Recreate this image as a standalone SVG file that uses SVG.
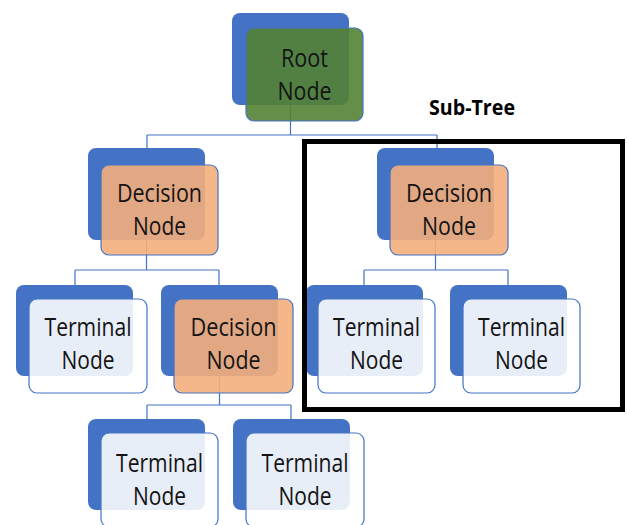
<svg xmlns="http://www.w3.org/2000/svg" width="627" height="525" viewBox="0 0 627 525">
<style>
.back{fill:#4472C4;}
.front{stroke:#4472C4;stroke-width:1.2;}
.root{fill:#548235;fill-opacity:0.9;}
.dec{fill:#F4AE7D;fill-opacity:0.9;}
.term{fill:#FFFFFF;fill-opacity:0.88;}
.lbl{font-family:"Open Sans","Noto Sans",sans-serif;font-size:25px;fill:#141414;text-anchor:middle;}
.conn{fill:none;stroke:#4472C4;stroke-width:1.2;}
.title{font-family:"Open Sans","Noto Sans",sans-serif;font-size:22px;font-weight:bold;fill:#000;text-anchor:middle;}
</style>
<rect width="627" height="525" fill="#FFFFFF"/>
<g id="connectors">
<path class="conn" d="M290.5,105 V135 M147,135 H437 M147,135 V148 M437,135 V148"/>
<path class="conn" d="M146.5,240 V270 M75,270 H219 M75,270 V285 M219,270 V285"/>
<path class="conn" d="M435.5,240 V270 M364,270 H508 M364,270 V285 M508,270 V285"/>
<path class="conn" d="M219.5,376 V405 M147,405 H291 M147,405 V419 M291,405 V419"/>
</g>
<g id="root">
<rect class="back" x="232" y="13" width="117" height="92" rx="8"/>
<rect class="front root" x="246" y="28" width="117" height="93" rx="8"/>
<text class="lbl" x="304.5" y="67" textLength="47" lengthAdjust="spacingAndGlyphs">Root</text>
<text class="lbl" x="304.5" y="100" textLength="54" lengthAdjust="spacingAndGlyphs">Node</text>
</g>
<g id="decision-left">
<rect class="back" x="88" y="148" width="117" height="92" rx="8"/>
<rect class="front dec" x="101" y="165" width="117" height="90" rx="8"/>
<text class="lbl" x="159.5" y="202" textLength="85" lengthAdjust="spacingAndGlyphs">Decision</text>
<text class="lbl" x="159.5" y="235" textLength="53" lengthAdjust="spacingAndGlyphs">Node</text>
</g>
<g id="decision-right">
<rect class="back" x="377" y="148" width="117" height="92" rx="8"/>
<rect class="front dec" x="390" y="165" width="118" height="90" rx="8"/>
<text class="lbl" x="449" y="202" textLength="86" lengthAdjust="spacingAndGlyphs">Decision</text>
<text class="lbl" x="449" y="235" textLength="54" lengthAdjust="spacingAndGlyphs">Node</text>
</g>
<g id="terminal-1">
<rect class="back" x="16" y="285" width="117" height="91" rx="8"/>
<rect class="front term" x="29" y="299" width="118" height="94" rx="8"/>
<text class="lbl" x="88" y="336" textLength="87" lengthAdjust="spacingAndGlyphs">Terminal</text>
<text class="lbl" x="88" y="369" textLength="53" lengthAdjust="spacingAndGlyphs">Node</text>
</g>
<g id="decision-middle">
<rect class="back" x="161" y="285" width="117" height="91" rx="8"/>
<rect class="front dec" x="174" y="299" width="119" height="94" rx="8"/>
<text class="lbl" x="233.5" y="336" textLength="86" lengthAdjust="spacingAndGlyphs">Decision</text>
<text class="lbl" x="233.5" y="369" textLength="54" lengthAdjust="spacingAndGlyphs">Node</text>
</g>
<g id="terminal-2">
<rect class="back" x="306" y="285" width="117" height="91" rx="8"/>
<rect class="front term" x="318" y="299" width="117" height="94" rx="8"/>
<text class="lbl" x="376.5" y="336" textLength="87" lengthAdjust="spacingAndGlyphs">Terminal</text>
<text class="lbl" x="376.5" y="369" textLength="53" lengthAdjust="spacingAndGlyphs">Node</text>
</g>
<g id="terminal-3">
<rect class="back" x="450" y="285" width="117" height="91" rx="8"/>
<rect class="front term" x="463" y="299" width="117" height="94" rx="8"/>
<text class="lbl" x="521.5" y="336" textLength="87" lengthAdjust="spacingAndGlyphs">Terminal</text>
<text class="lbl" x="521.5" y="369" textLength="53" lengthAdjust="spacingAndGlyphs">Node</text>
</g>
<g id="terminal-4">
<rect class="back" x="88" y="419" width="117" height="91" rx="8"/>
<rect class="front term" x="101" y="433" width="117" height="94" rx="8"/>
<text class="lbl" x="159.5" y="472" textLength="87" lengthAdjust="spacingAndGlyphs">Terminal</text>
<text class="lbl" x="159.5" y="505" textLength="53" lengthAdjust="spacingAndGlyphs">Node</text>
</g>
<g id="terminal-5">
<rect class="back" x="233" y="419" width="117" height="91" rx="8"/>
<rect class="front term" x="246" y="433" width="118" height="94" rx="8"/>
<text class="lbl" x="305" y="472" textLength="87" lengthAdjust="spacingAndGlyphs">Terminal</text>
<text class="lbl" x="305" y="505" textLength="53" lengthAdjust="spacingAndGlyphs">Node</text>
</g>
<g id="sub-tree">
<rect x="304.5" y="141.5" width="318" height="268" fill="none" stroke="#000000" stroke-width="5"/>
<text class="title" x="472" y="115" textLength="86" lengthAdjust="spacingAndGlyphs">Sub-Tree</text>
</g>
</svg>
